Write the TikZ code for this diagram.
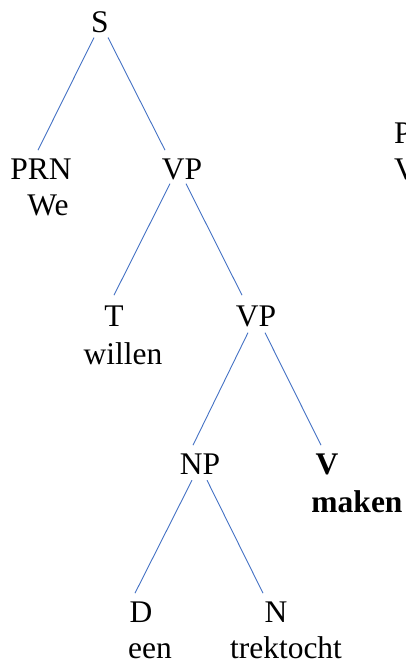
\documentclass[tikz,border=0pt]{standalone}
\usepackage{fontspec}
\setmainfont{Liberation Serif}
\usepackage{xcolor}
\usepackage{tikz}
\usetikzlibrary{positioning}
\definecolor{branchblue}{RGB}{68,114,196}
\newcommand{\treefont}{\fontsize{31.5}{37}\selectfont}
\tikzset{
  cat/.style={inner sep=0pt, anchor=base, font=\treefont},
  word/.style={inner sep=0pt, anchor=base, font=\treefont},
  headcat/.style={cat, font=\treefont\bfseries},
  headword/.style={word, font=\treefont\bfseries},
  branch/.style={draw=branchblue, line width=0.9pt},
}

\begin{document}
\begin{tikzpicture}[x=1pt, y=-1pt]
    \useasboundingbox (0,0) rectangle (406,664);
    % categories, placed on their baselines
    \node[cat] (s)   at (100,32)  {S};
    \node[cat] (prn) at (41,179)  {PRN};
    \node[cat] (vpa) at (182,179) {VP};
    \node[cat] (t)   at (114,326) {T};
    \node[cat] (vpb) at (256,326) {VP};
    \node[cat] (np)  at (200,474) {NP};
    \node[headcat] (v) at (327,474) {V};
    \node[cat] (d)   at (141,622) {D};
    \node[cat] (n)   at (276,622) {N};
    % words under the leaves
    \node[word] (we)     at (48,215)  {We};
    \node[word] (willen) at (123,364) {willen};
    \node[headword] (maken) at (357,512) {maken};
    \node[word] (een)    at (150,658) {een};
    \node[word] (trek)   at (286,658) {trektocht};
    % next tree, running off the edge
    \node[cat, anchor=base west] (pnext) at (394,143) {P};
    \node[cat, anchor=base west] (vnext) at (394,179) {V};
    % branches
    \draw[branch] ([xshift=-6pt,yshift=-5pt]s.south) -- ([xshift=-3pt,yshift=8pt]prn.north);
    \draw[branch] ([xshift=8pt,yshift=-5pt]s.south) -- ([xshift=-17pt,yshift=8pt]vpa.north);
    \draw[branch] ([xshift=-12pt,yshift=-4pt]vpa.south) -- ([yshift=10pt]t.north);
    \draw[branch] ([xshift=4pt,yshift=-4pt]vpa.south) -- ([xshift=-14pt,yshift=10pt]vpb.north);
    \draw[branch] ([xshift=-8pt,yshift=-6pt]vpb.south) -- ([xshift=-7pt,yshift=8pt]np.north);
    \draw[branch] ([xshift=9pt,yshift=-6pt]vpb.south) -- ([xshift=-6pt,yshift=8pt]v.north);
    \draw[branch] ([xshift=-8pt,yshift=-6pt]np.south) -- ([xshift=-6pt,yshift=8pt]d.north);
    \draw[branch] ([xshift=7pt,yshift=-6pt]np.south) -- ([xshift=-13pt,yshift=8pt]n.north);
\end{tikzpicture}
\end{document}
